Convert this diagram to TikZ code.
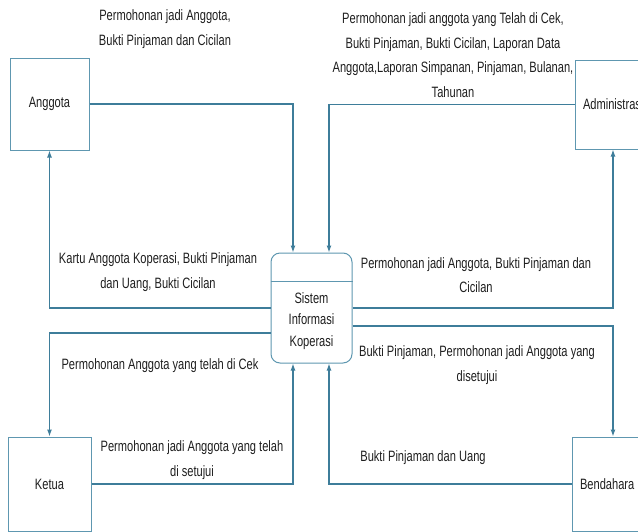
\documentclass[tikz,border=0pt]{standalone}
\usepackage{fontspec}
\setmainfont{Liberation Sans}[FakeStretch=0.74]
\usetikzlibrary{arrows.meta}

\definecolor{flowline}{HTML}{3E7D9A}
\definecolor{boxline}{HTML}{5E97B0}
\definecolor{labeltext}{HTML}{1E1E1E}

\tikzset{
    entity/.style={draw=boxline, line width=1pt, fill=white, text=labeltext, font=\fontsize{15}{18}\selectfont},
    process/.style={draw=boxline, line width=1pt, rounded corners=9pt, fill=white},
    flow/.style={draw=flowline, line width=1.2pt, -{Latex[length=7pt,width=5pt]}},
    flowlabel/.style={text=labeltext, align=center, font=\fontsize{15}{24.5}\selectfont, inner sep=0pt}
}

\begin{document}
\begin{tikzpicture}[x=1pt,y=-1pt]
        \useasboundingbox (0,0) rectangle (638,531);
        \clip (0,0) rectangle (638,531);
        % external entities
        \node[entity, minimum width=79pt, minimum height=92pt] (anggota) at (49.5,104) {Anggota};
        \node[entity, minimum width=76pt, minimum height=89pt, inner xsep=8pt, text width=60pt, align=left] (admin) at (613,104.5) {Administrasi};
        \node[entity, minimum width=83pt, minimum height=94pt] (ketua) at (49.5,484) {Ketua};
        \node[entity, minimum width=82pt, minimum height=94pt, inner xsep=8pt, text width=66pt, align=left] (bendahara) at (613,484) {Bendahara};
        % process
        \node[process, minimum width=81pt, minimum height=110pt] (proc) at (311.5,308) {};
        \draw[draw=boxline, line width=1pt] (proc.west |- 0,281) -- (proc.east |- 0,281);
        \node[text=labeltext, align=center, font=\fontsize{15}{21.5}\selectfont] (proctext) at (311.5,321) {Sistem\\Informasi\\Koperasi};
        % data flows
        \draw[flow] (anggota.east) -| ([xshift=-18.5pt]proc.north);
        \draw[flow] (admin.west) -| ([xshift=17.5pt]proc.north);
        \draw[flow] (proc.west) -| (anggota.south);
        \draw[flow] ([yshift=-25pt]proc.west) -| (ketua.north);
        \draw[flow] (ketua.east) -| ([xshift=-18.5pt]proc.south);
        \draw[flow] (proc.east) -| (admin.south);
        \draw[flow] ([yshift=-18pt]proc.east) -| (bendahara.north);
        \draw[flow] (bendahara.west) -| ([xshift=17.5pt]proc.south);
        % labels
        \node[flowlabel] (lbl1) at (165,29) {Permohonan jadi Anggota,\\Bukti Pinjaman dan Cicilan};
        \node[flowlabel] (lbl2) at (453,55) {Permohonan jadi anggota yang Telah di Cek,\\Bukti Pinjaman, Bukti Cicilan, Laporan Data\\Anggota,Laporan Simpanan, Pinjaman, Bulanan,\\Tahunan};
        \node[flowlabel] (lbl3) at (158,272) {Kartu Anggota Koperasi, Bukti Pinjaman\\dan Uang, Bukti Cicilan};
        \node[flowlabel] (lbl4) at (160,366) {Permohonan Anggota yang telah di Cek};
        \node[flowlabel] (lbl5) at (192,460) {Permohonan jadi Anggota yang telah\\di setujui};
        \node[flowlabel] (lbl6) at (476,275) {Permohonan jadi Anggota, Bukti Pinjaman dan\\Cicilan};
        \node[flowlabel] (lbl7) at (477,365) {Bukti Pinjaman, Permohonan jadi Anggota yang\\disetujui};
        \node[flowlabel] (lbl8) at (423,458) {Bukti Pinjaman dan Uang};
\end{tikzpicture}
\end{document}
